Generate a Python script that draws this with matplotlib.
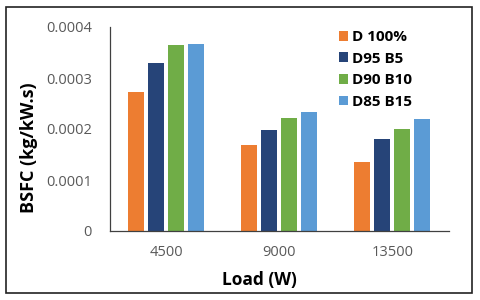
import numpy as np
import matplotlib.pyplot as plt
from matplotlib.patches import Rectangle

plt.rcParams['font.family'] = ['Open Sans', 'DejaVu Sans']

loads = ['4500', '9000', '13500']
series = ['D 100%', 'D95 B5', 'D90 B10', 'D85 B15']
d100 = [0.000273, 0.000169, 0.000135]
d95b5 = [0.000329, 0.000198, 0.000181]
d90b10 = [0.000365, 0.000221, 0.000200]
d85b15 = [0.000367, 0.000234, 0.000219]
colors = ['#ED7D31', '#264478', '#70AD47', '#5B9BD5']

fig = plt.figure(figsize=(4.8, 3.0), dpi=100)
ax = fig.add_axes([0.229, 0.23, 0.706, 0.68])

x = np.arange(len(loads))
step = 0.177
width = 0.142
for i, (vals, name) in enumerate(zip([d100, d95b5, d90b10, d85b15], series)):
    ax.bar(x + (i - 1.5) * step, vals, width, color=colors[i], label=name)

ax.set_xlim(-0.5, 2.5)
ax.set_ylim(0, 0.0004)
ax.set_yticks([0, 0.0001, 0.0002, 0.0003, 0.0004])
ax.set_yticklabels(['0', '0.0001', '0.0002', '0.0003', '0.0004'])
ax.set_xticks(x)
ax.set_xticklabels(loads)
ax.tick_params(length=0, labelsize=10.5, colors='#595959', pad=10)
ax.tick_params(axis='y', pad=13)
for s in ['top', 'right']:
    ax.spines[s].set_visible(False)
for s in ['left', 'bottom']:
    ax.spines[s].set_color('#404040')
    ax.spines[s].set_linewidth(0.9)

ax.set_xlabel('Load (W)', fontsize=12.5, fontweight='bold')
ax.xaxis.set_label_coords(0.44, -0.195)
ax.set_ylabel('BSFC (kg/kW.s)', fontsize=13, fontweight='bold')
ax.yaxis.set_label_coords(-0.212, 0.41)

leg = ax.legend(loc='upper left', bbox_to_anchor=(0.675, 0.985), frameon=False,
                prop={'weight': 'bold', 'size': 11}, handlelength=0.6,
                handleheight=0.6, handletextpad=0.3, labelspacing=0.5,
                borderpad=0, borderaxespad=0)

fig.patches.append(Rectangle((0.012, 0.022), 0.972, 0.955, transform=fig.transFigure,
                             fill=False, edgecolor='#222222', linewidth=1.2))

fig.savefig('out.png')
